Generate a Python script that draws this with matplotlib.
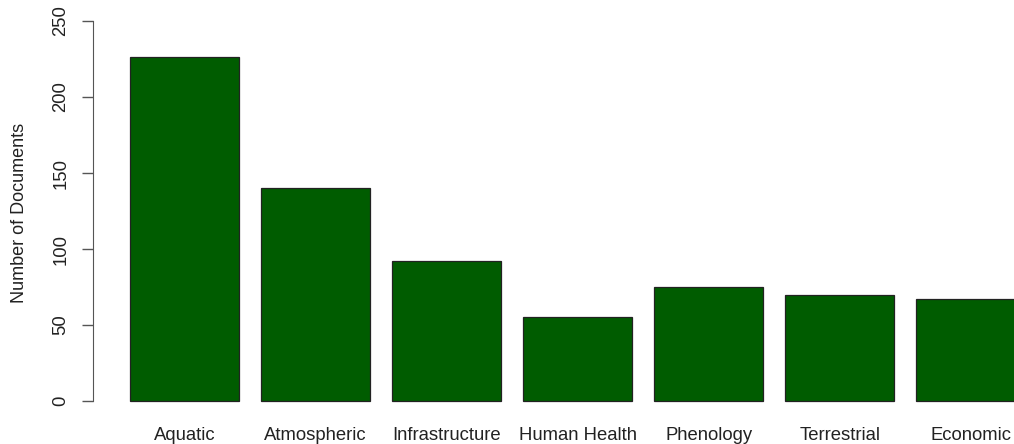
import numpy as np
import matplotlib.pyplot as plt

plt.rcParams['font.family'] = ['Liberation Sans', 'DejaVu Sans']

# categories and counts
categories = ['Aquatic', 'Atmospheric', 'Infrastructure', 'Human Health',
              'Phenology', 'Terrestrial', 'Economic']
counts = [226, 140, 92, 55, 75, 70, 67]
y_ticks = [0, 50, 100, 150, 200, 250]

fig = plt.figure(figsize=(10.14, 4.44), dpi=100)
# axes placed in pixel terms: left 93px, bottom 410px from top, top 15px
ax = fig.add_axes([93 / 1014, 34 / 444, 921 / 1014, 395 / 444])

# R-style barplot positions: width 1, space 0.2
x_pos = 0.7 + 1.2 * np.arange(len(categories))
ax.bar(x_pos, counts, width=1.0, color='#005C00', edgecolor='#222222', linewidth=0.9)

ax.set_xlim(-0.139, 8.295)
ax.set_ylim(-5.92, 253.95)

for s in ['top', 'right', 'bottom']:
    ax.spines[s].set_visible(False)
ax.spines['left'].set_bounds(0, 250)
ax.spines['left'].set_color('#555555')

ax.set_yticks(y_ticks)
ax.set_yticklabels([str(t) for t in y_ticks], rotation=90, va='center', fontsize=13.3, color='#222222')
ax.tick_params(axis='y', length=8, width=1, color='#555555', pad=9)

ax.set_xticks(x_pos)
ax.set_xticklabels(categories, fontsize=13.3, color='#222222')
ax.tick_params(axis='x', length=0, pad=12)

ax.set_ylabel('Number of Documents', fontsize=13, color='#222222')
ax.yaxis.set_label_coords(-0.0705, 0.5)

fig.savefig('out.png', dpi=100)
